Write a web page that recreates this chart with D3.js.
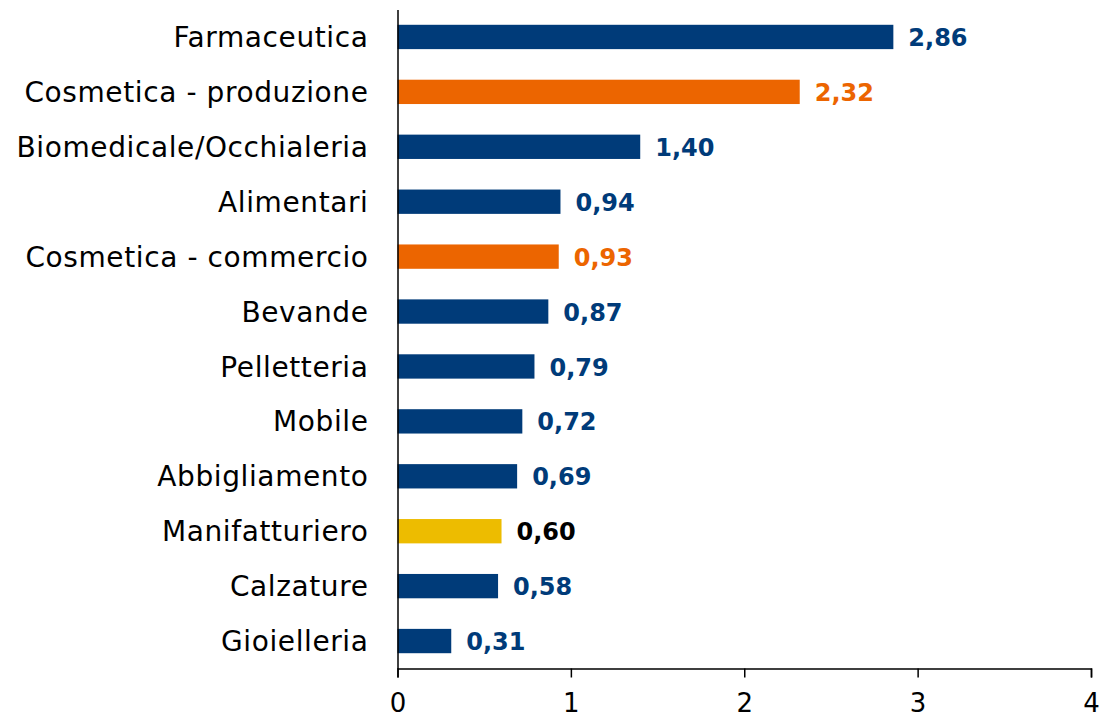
<!DOCTYPE html>
<html>
<head>
<meta charset="utf-8">
<script src="https://cdn.jsdelivr.net/npm/d3@7"></script>
<style>
  body { margin: 0; background: #fff; }
  svg { display: block; }
</style>
</head>
<body>
<script>
// categorie e valori (indice)
var categorie = ["Farmaceutica", "Cosmetica - produzione", "Biomedicale/Occhialeria", "Alimentari",
  "Cosmetica - commercio", "Bevande", "Pelletteria", "Mobile", "Abbigliamento",
  "Manifatturiero", "Calzature", "Gioielleria"];
var valori = [2.86, 2.32, 1.40, 0.94, 0.93, 0.87, 0.79, 0.72, 0.69, 0.60, 0.58, 0.31];
var tipi = ["base", "cosm", "base", "base", "cosm", "base", "base", "base", "base", "manif", "base", "base"];
var tickValori = [0, 1, 2, 3, 4];

var width = 1099, height = 717;
var xLeft = 397.5, xRight = 1091, yTop = 9.5, yBottom = 668.5;
var font = "'DejaVu Sans', sans-serif";

var barColor = { base: "#003B79", cosm: "#EC6500", manif: "#EDBC00" };
var labelColor = { base: "#003B79", cosm: "#EC6500", manif: "#000000" };

var svg = d3.select("body").append("svg").attr("width", width).attr("height", height);

var xScale = d3.scaleLinear().domain([0, 4]).range([xLeft, xRight]);
var yScale = d3.scaleBand().domain(categorie).range([yTop, yBottom]).paddingInner(0.557).paddingOuter(0.2785);

// barre
svg.selectAll("rect.bar").data(categorie).enter().append("rect")
  .attr("class", "bar")
  .attr("x", xScale(0))
  .attr("y", function(d) { return yScale(d); })
  .attr("width", function(d, i) { return xScale(valori[i]) - xScale(0); })
  .attr("height", yScale.bandwidth())
  .attr("fill", function(d, i) { return barColor[tipi[i]]; });

// etichette valori
svg.selectAll("text.val").data(categorie).enter().append("text")
  .attr("class", "val")
  .attr("x", function(d, i) { return xScale(valori[i]) + 15; })
  .attr("y", function(d) { return yScale(d) + yScale.bandwidth() / 2; })
  .attr("dy", "0.38em")
  .attr("font-family", font)
  .attr("font-weight", "bold")
  .attr("font-size", 24)
  .attr("fill", function(d, i) { return labelColor[tipi[i]]; })
  .text(function(d, i) { return valori[i].toFixed(2).replace(".", ","); });

// asse y
var yAxis = d3.axisLeft(yScale).tickSize(0).tickPadding(29);
var gy = svg.append("g").attr("transform", "translate(" + xLeft + ",0)").call(yAxis);
gy.select(".domain").attr("stroke", "#000").attr("stroke-width", 1.5);
gy.selectAll("text").attr("font-family", font).attr("font-size", 28).attr("letter-spacing", 0.6)
  .attr("fill", "#000").attr("dy", "0.36em");

// asse x
var xAxis = d3.axisBottom(xScale).tickValues(tickValori).tickSize(9).tickSizeOuter(9).tickPadding(16)
  .tickFormat(function(d) { return d; });
var gx = svg.append("g").attr("transform", "translate(0," + yBottom + ")").call(xAxis);
gx.select(".domain").attr("stroke", "#000").attr("stroke-width", 1.5);
gx.selectAll(".tick line").attr("stroke", "#000").attr("stroke-width", 1.5);
gx.selectAll("text").attr("font-family", font).attr("font-size", 26).attr("fill", "#000");
</script>
</body>
</html>
